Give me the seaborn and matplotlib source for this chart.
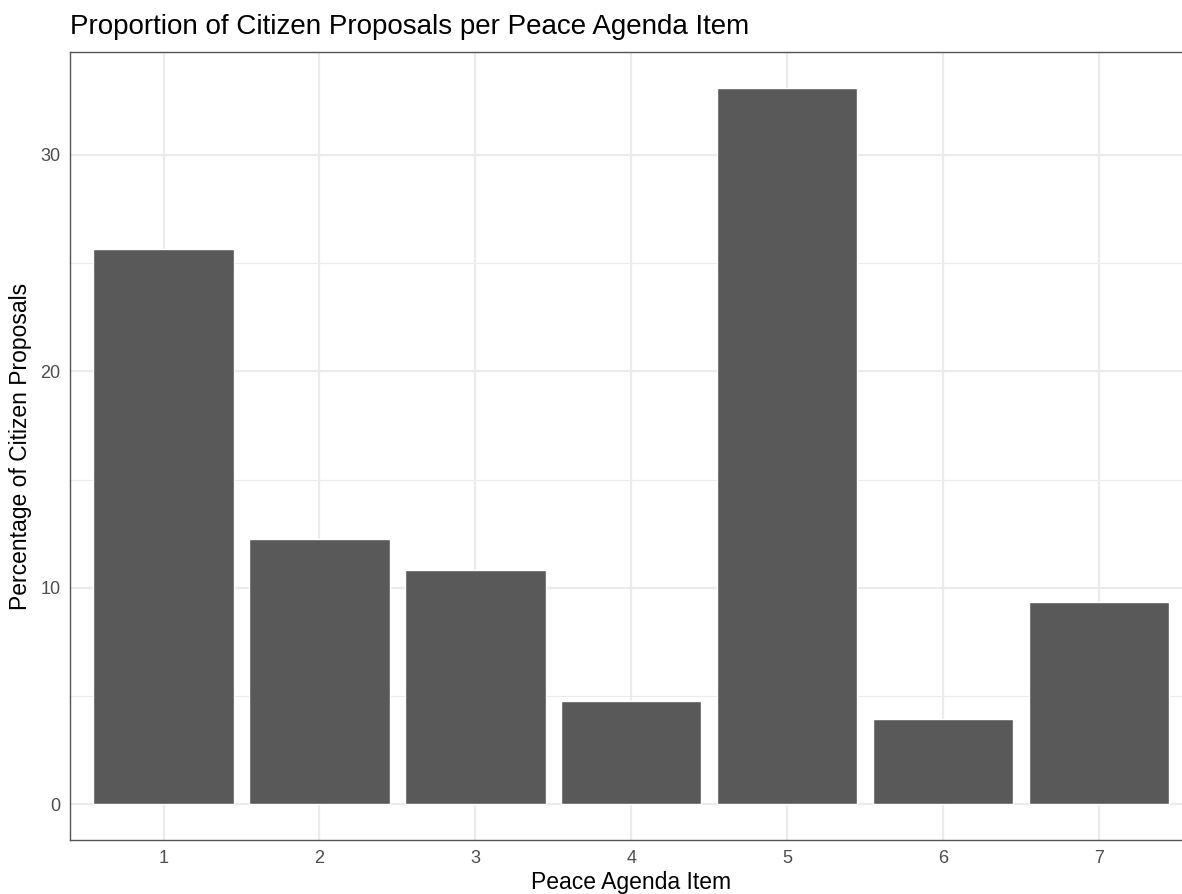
import matplotlib
matplotlib.use('Agg')
import matplotlib.pyplot as plt
from matplotlib.ticker import MultipleLocator
import seaborn as sns
import pandas as pd

# values
agenda_items = ['1', '2', '3', '4', '5', '6', '7']
pct_proposals = [25.66, 12.25, 10.82, 4.76, 33.1, 3.93, 9.34]

df = pd.DataFrame({'item': agenda_items, 'pct': pct_proposals})

sns.set_theme(style='white')
plt.rcParams['font.family'] = ['Liberation Sans', 'DejaVu Sans']

W, H = 1182, 894
fig = plt.figure(figsize=(W / 100, H / 100), dpi=100)
# panel runs slightly past the right edge, like the reference crop
left, right, top, bottom = 70 / W, 1192.6 / W, 1 - 52 / H, 1 - 840 / H
ax = fig.add_axes([left, bottom, right - left, top - bottom])

sns.barplot(data=df, x='item', y='pct', color='#595959', saturation=1,
            width=0.9, ax=ax, zorder=3)

ymax = max(pct_proposals)
ax.set_xlim(-0.6, 6.6)
ax.set_ylim(-0.05 * ymax, 1.05 * ymax)
ax.yaxis.set_major_locator(MultipleLocator(10))
ax.yaxis.set_minor_locator(MultipleLocator(5))

ax.set_axisbelow(True)
ax.grid(which='major', axis='both', color='#EBEBEB', lw=1.6, zorder=0)
ax.grid(which='minor', axis='y', color='#EBEBEB', lw=0.8, zorder=0)
for s in ax.spines.values():
    s.set_color('#555555')
    s.set_linewidth(1.0)

ax.tick_params(axis='both', which='major', length=4, width=1.2, color='#333333',
               labelcolor='#4D4D4D', labelsize=13, pad=3)
ax.tick_params(axis='y', which='minor', length=0)

ax.set_xlabel('Peace Agenda Item', fontsize=16.5, color='black', labelpad=3)
ax.set_ylabel('Percentage of Citizen Proposals', fontsize=16.5, color='black', labelpad=6)
fig.text(70 / W, 1 - 27 / H, 'Proportion of Citizen Proposals per Peace Agenda Item',
         fontsize=20, ha='left', va='center', color='black')

fig.savefig('out.png', dpi=100, facecolor='white')
